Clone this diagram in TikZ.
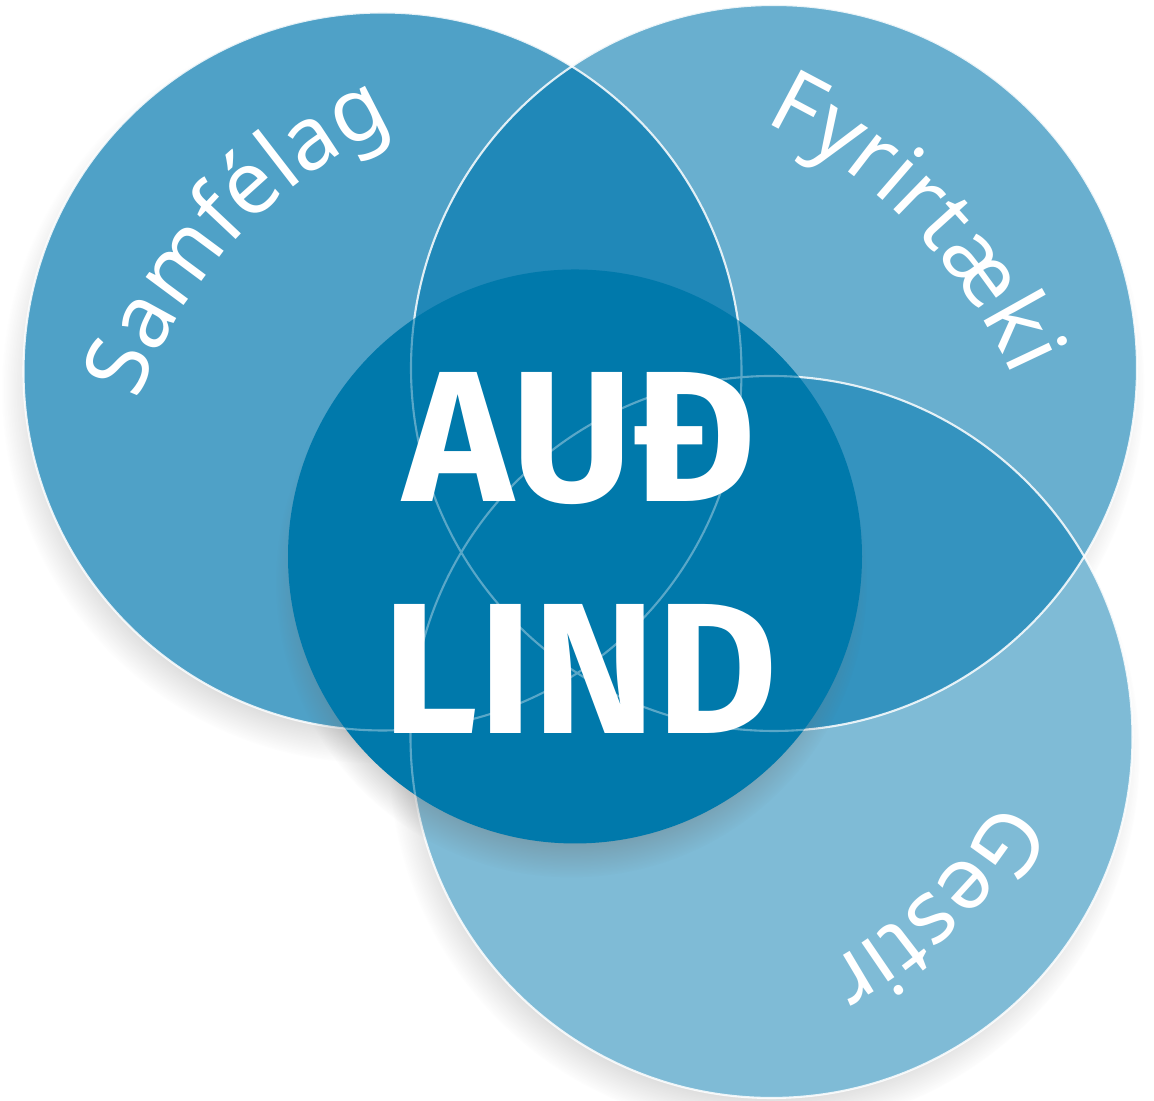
\documentclass[tikz,border=0pt]{standalone}
\usepackage{fontspec}
\setmainfont{Fira Sans}
\newfontfamily\arcfam{Noto Sans}
\usetikzlibrary{shadows,fadings,decorations.text,calc}
\definecolor{audblue}{RGB}{0,120,175}
\definecolor{audcore}{RGB}{0,121,171}
\newcommand{\arcfont}{\arcfam\fontsize{25}{29}\selectfont}
\tikzstyle{disc} = [fill=audblue]
\tikzstyle{rim} = [draw=white, line width=0.6pt, draw opacity=0.85]
\tikzstyle{softshadow} = [circular drop shadow={shadow scale=1.04, shadow xshift=-2pt, shadow yshift=-5pt, opacity=0.35, fill=black!60}]
\tikzstyle{coreshadow} = [circular drop shadow={shadow scale=1.03, shadow xshift=-1pt, shadow yshift=-7pt, opacity=0.4, fill=black!60}]
\tikzstyle{arctext} = [decorate, decoration={text along path, text align=center, text color=white}]
\tikzstyle{core} = [text=white, font=\bfseries\fontsize{53}{60}\selectfont, inner sep=0pt]

\begin{document}
\begin{tikzpicture}
        \useasboundingbox (0,0) rectangle (11.54,11.01);
        \coordinate (samfelag) at (3.825,7.295);
        \coordinate (fyrirtaeki) at (7.74,7.33);
        \coordinate (gestir) at (7.715,3.64);
        \coordinate (kjarni) at (5.75,5.445);
        % centres of the label arcs
        \coordinate (samfelagarc) at (5.879,5.380);
        \coordinate (fyrirtaekiarc) at (5.449,5.161);
        \coordinate (gestirarc) at (5.972,5.531);
        % shadows, then white under the discs
        \path[softshadow] (gestir) circle (3.61);
        \path[softshadow] (samfelag) circle (3.59);
        \path[softshadow] (fyrirtaeki) circle (3.63);
        \fill[white] (samfelag) circle (3.59) (fyrirtaeki) circle (3.63) (gestir) circle (3.61);
        % the three discs
        \fill[disc, fill opacity=0.5] (gestir) circle (3.61);
        \fill[disc, fill opacity=0.69] (samfelag) circle (3.59);
        \fill[disc, fill opacity=0.59] (fyrirtaeki) circle (3.63);
        \draw[rim] (gestir) circle (3.61);
        \draw[rim] (samfelag) circle (3.59);
        \draw[rim] (fyrirtaeki) circle (3.63);
        % middle disc
        \path[coreshadow] (kjarni) circle (2.87);
        \fill[audcore] (kjarni) circle (2.87);
        \begin{scope}
            \clip (kjarni) circle (2.87);
            \draw[rim, draw opacity=0.35] (gestir) circle (3.61) (samfelag) circle (3.59) (fyrirtaeki) circle (3.63);
        \end{scope}
        % labels
        \path[arctext, decoration={text={|\arcfont|Samf{\'e}lag}}] ($(samfelagarc)+(177:4.78)$) arc[start angle=177, end angle=97, radius=4.78];
        \path[arctext, decoration={text={|\arcfont|Fyrirt{\ae}ki}}] ($(fyrirtaekiarc)+(84.3:5.12)$) arc[start angle=84.3, end angle=4.3, radius=5.12];
        \path[arctext, decoration={text={|\arcfont|Gestir}}] ($(gestirarc)+(-6.6:4.76)$) arc[start angle=-6.6, end angle=-86.6, radius=4.76];
        \node[core] (aud) at (5.80,6.62) {AUÐ};
        \node[core, below of=aud, node distance=2.3cm] (lind) {LIND};
\end{tikzpicture}
\end{document}
